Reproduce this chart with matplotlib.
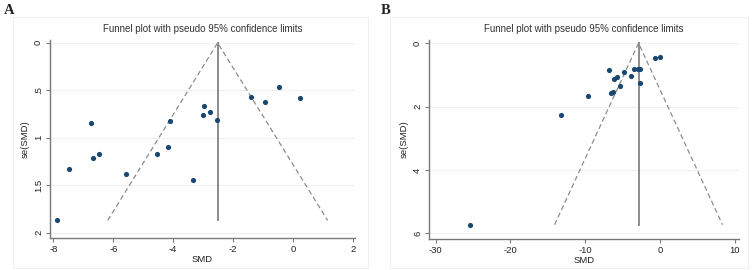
import numpy as np
import matplotlib.pyplot as plt
from matplotlib.patches import Rectangle

plt.rcParams['font.family'] = ['Liberation Sans', 'DejaVu Sans']

# Panel A: study SMD and se(SMD)
smd_a = [-7.89, -7.47, -6.74, -6.68, -6.47, -5.59, -4.53, -4.16, -4.12,
         -3.34, -3.01, -2.97, -2.78, -2.53, -1.41, -0.94, -0.47, 0.23]
se_a = [1.87, 1.33, 0.84, 1.21, 1.17, 1.38, 1.17, 1.10, 0.82,
        1.45, 0.765, 0.67, 0.73, 0.81, 0.57, 0.62, 0.46, 0.58]
pooled_a = -2.52
xticks_a = [-8, -6, -4, -2, 0, 2]
yticks_a = [0, 0.5, 1, 1.5, 2]
yticklabels_a = ['0', '.5', '1', '1.5', '2']

# Panel B
smd_b = [-25.45, -13.23, -9.60, -6.84, -6.52, -6.22, -6.08, -5.78, -5.28,
         -4.77, -3.83, -3.40, -2.95, -2.62, -2.68, -0.68, -0.02]
se_b = [5.73, 2.26, 1.66, 0.84, 1.58, 1.53, 1.12, 1.08, 1.35,
        0.92, 1.03, 0.82, 0.81, 0.83, 1.26, 0.46, 0.45]
pooled_b = -2.85
xticks_b = [-30, -20, -10, 0, 10]
yticks_b = [0, 2, 4, 6]
yticklabels_b = ['0', '2', '4', '6']

title = 'Funnel plot with pseudo 95% confidence limits'
dot_color = '#1a476f'
line_color = '#8c8c8c'
axis_color = '#7a7a7a'
grid_color = '#edf2f3'

fig = plt.figure(figsize=(7.54, 2.70), dpi=100)

# faint outer frames and panel letters
for x0, w, letter, lx in [(13, 355, 'A', 4), (390, 358, 'B', 381)]:
    fig.patches.append(Rectangle((x0 / 754, 2 / 270), w / 754, 251 / 270,
                                 transform=fig.transFigure, fill=False,
                                 edgecolor='#f0f0f0', linewidth=0.8))
    fig.text(lx / 754, 1 - 4 / 270, letter, family='Liberation Serif',
             fontsize=10.5, fontweight='bold', va='top', ha='left',
             color='#222222')


def funnel(ax, smd, se, pooled, xlim, ylim, xticks, yticks, yticklabels):
    se_max = max(se)
    ax.set_xlim(*xlim)
    ax.set_ylim(*ylim)
    for y in yticks:
        ax.axhline(y, color=grid_color, linewidth=0.8, zorder=0)
    ax.plot([pooled - 1.96 * se_max, pooled, pooled + 1.96 * se_max],
            [se_max, 0, se_max], color=line_color, linestyle=(0, (4, 2.5)),
            linewidth=0.9, zorder=1)
    ax.plot([pooled, pooled], [0, se_max], color=line_color, linewidth=1.4,
            zorder=1)
    ax.scatter(smd, se, s=14, color=dot_color, zorder=3, linewidths=0)
    ax.set_xticks(xticks)
    ax.set_xticklabels([str(t) for t in xticks])
    ax.set_yticks(yticks)
    ax.set_yticklabels(yticklabels, rotation=90, va='center')
    for side in ['top', 'right']:
        ax.spines[side].set_visible(False)
    for side in ['left', 'bottom']:
        ax.spines[side].set_color(axis_color)
        ax.spines[side].set_linewidth(1.0)
    ax.tick_params(length=3, width=0.8, color=axis_color, labelsize=6.8,
                   labelcolor='#222222', pad=2)
    ax.set_xlabel('SMD', fontsize=6.8, labelpad=1, color='#222222')
    ax.set_ylabel('se(SMD)', fontsize=6.8, labelpad=3, color='#222222')
    ax.set_title(title, fontsize=7, pad=6, color='#333333')


ax_a = fig.add_axes([50 / 754, 32 / 270, 305 / 754, 198 / 270])
funnel(ax_a, smd_a, se_a, pooled_a, (-8.11, 2.06), (2.056, -0.03),
       xticks_a, yticks_a, yticklabels_a)

ax_b = fig.add_axes([429 / 754, 31 / 270, 310 / 754, 199 / 270])
funnel(ax_b, smd_b, se_b, pooled_b, (-30.88, 10.59), (6.18, -0.1),
       xticks_b, yticks_b, yticklabels_b)

fig.savefig('out.png', dpi=100)
